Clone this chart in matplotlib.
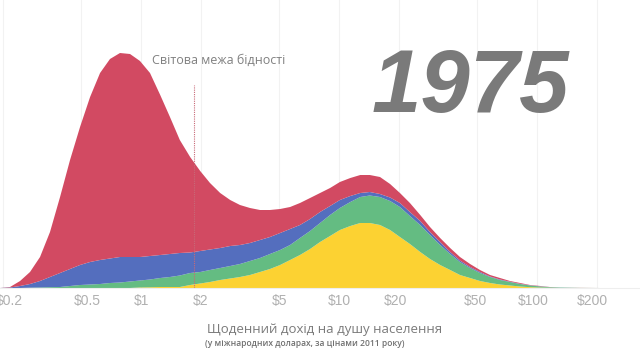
"""Income distribution 1975 — stacked density by region, log income axis."""
import matplotlib
matplotlib.use('Agg')
import matplotlib.pyplot as plt
import matplotlib.transforms as mtransforms

# daily income per person (int. $, 2011 prices)
INCOME = [0.194, 0.218, 0.245, 0.275, 0.309, 0.347, 0.390, 0.438, 0.492,
          0.553, 0.621, 0.697, 0.783, 0.880, 0.988, 1.11, 1.25, 1.40, 1.57,
          1.77, 1.99, 2.23, 2.51, 2.82, 3.16, 3.55, 3.99, 4.48, 5.04, 5.66,
          6.35, 7.14, 8.02, 9.01, 10.1, 11.4, 12.8, 14.3, 16.1, 18.1, 20.3,
          22.8, 25.7, 28.8, 32.4, 36.4, 40.8, 45.9, 51.5, 57.9, 65.0, 73.0,
          82.1, 92.2, 104, 116, 131, 165, 208, 331]

# layer thickness (bottom -> top)
YELLOW = [0, 0, 0, 0, 0, 0, 0, 0, 0, 0, 0, 0, 0, 0, 0.5, 0.7, 1, 1, 1, 3,
          4.5, 6, 8, 9.5, 11, 13, 16, 19, 23, 28, 33, 39, 46, 52, 58, 62, 65,
          65, 63, 58, 51, 44, 36, 29, 23, 18, 13, 10, 7, 5, 3.5, 2.5, 1.5,
          0.8, 0.4, 0.2, 0, 0, 0, 0]
GREEN = [0, 0, 0, 0.3, 0.5, 0.8, 1, 2, 3, 3.5, 4, 5, 5.5, 6.5, 7, 7.8, 9, 10,
         11.5, 12, 11.5, 12, 12, 12.5, 13, 14, 14, 15, 15, 15, 17, 18, 19, 21,
         22, 24, 26, 27.5, 28, 29, 30, 28, 27, 24, 20, 16, 13, 10, 8, 6, 4.5,
         3.5, 2.5, 1.7, 1.1, 0.6, 0.4, 0.1, 0, 0]
BLUE = [0, 0.5, 2, 3.7, 6.5, 10.2, 14, 17, 20, 22.5, 24, 24.5, 25.5, 24.5,
        23.5, 23.5, 23, 23, 22.5, 20.5, 21, 20.5, 20, 20, 19, 18, 18, 17, 17,
        16, 13, 12, 11, 9, 8, 6, 4, 3.5, 3, 3.5, 4, 4, 4, 3, 3, 2, 1.5, 1, 1,
        0.5, 0.5, 0.3, 0.2, 0.2, 0.2, 0.1, 0.1, 0, 0, 0]
RED = [0, 0.5, 5, 12, 24, 45, 76, 109, 138, 165, 187, 199.5, 204, 203, 196,
       183, 160, 137, 113, 95.5, 80, 66.5, 55, 46, 40, 35, 30, 27, 24, 22, 22,
       21, 19, 18, 18, 18, 18, 17, 17, 13.5, 10, 9, 6, 5, 4, 4, 3.5, 3, 2,
       1.5, 1.5, 0.7, 0.8, 0.3, 0.3, 0.1, 0, 0.1, 0, 0]

TICKS = [0.2, 0.5, 1, 2, 5, 10, 20, 50, 100, 200]
TICK_LABELS = ['$0.2', '$0.5', '$1', '$2', '$5', '$10', '$20', '$50', '$100', '$200']
POVERTY_LINE = 1.85
YEAR = '1975'

COLORS = ['#FCD232', '#64BC82', '#546EBE', '#D24A62']

fig = plt.figure(figsize=(6.4, 3.6), dpi=100)
ax = fig.add_axes([0, 0.2, 1, 0.8])

ax.stackplot(INCOME, YELLOW, GREEN, BLUE, RED, colors=COLORS, linewidth=0, zorder=2)
ax.plot([POVERTY_LINE, POVERTY_LINE], [0, 203], ls=(0, (1, 1)), lw=0.8,
        color='#c86a78', zorder=3)

ax.set_xscale('log')
ax.set_xlim(0.194, 331)
ax.set_ylim(0, 288)
ax.set_xticks(TICKS)
ax.set_xticklabels(TICK_LABELS)
ax.minorticks_off()
ax.tick_params(axis='x', length=0, pad=4, labelsize=10, labelcolor='#b0b0b0')
# label nudges (px) to sit where the original labels sit
nudges = [7, 6, 0, 0, 0, 0, -3, -2, -4, -4]
for lbl, dx in zip(ax.get_xticklabels(), nudges):
    lbl.set_family('Liberation Sans')
    lbl.set_transform(lbl.get_transform() +
                      mtransforms.ScaledTranslation(dx / 100, 0, fig.dpi_scale_trans))
ax.set_yticks([])
ax.grid(axis='x', color='#f2f2f2', lw=0.8, zorder=0)
for s in ['top', 'left', 'right']:
    ax.spines[s].set_visible(False)
ax.spines['bottom'].set_color('#eeeeee')

ax.text(0.238, 0.79, 'Світова межа бідності', transform=ax.transAxes,
        family='Open Sans', fontsize=9, color='#808080', va='center', ha='left')
fig.text(0.581, 0.689, YEAR, family='Liberation Sans', fontsize=64,
         fontweight='bold', fontstyle='italic', color='#7a7a7a',
         ha='left', va='baseline')

fig.text(0.323, 0.086, 'Щоденний дохід на душу населення', family='Open Sans',
         fontsize=9.5, color='#7a7a7a', ha='left', va='center')
fig.text(0.32, 0.047, '(у міжнародних доларах, за цінами 2011 року)',
         family='Open Sans', fontsize=6.1, fontweight='semibold', color='#707070',
         ha='left', va='center')

fig.savefig('out.png', dpi=100, facecolor='white')
